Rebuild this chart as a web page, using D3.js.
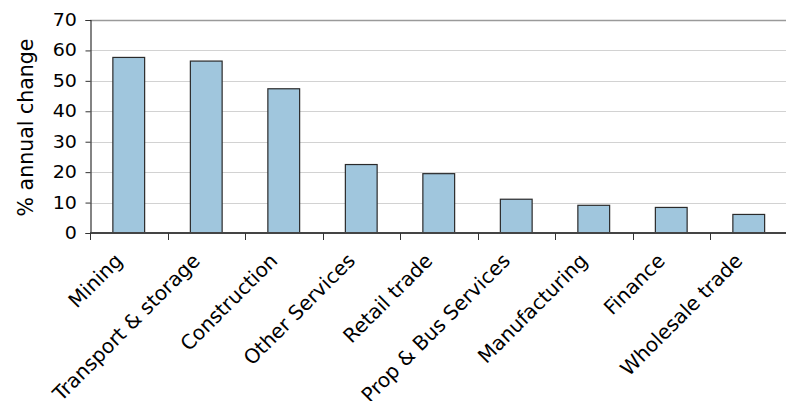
<!DOCTYPE html>
<html><head><meta charset="utf-8">
<script src="https://cdn.jsdelivr.net/npm/d3@7"></script>
<style>
html,body{margin:0;padding:0;background:#fff;}
text{font-family:"DejaVu Sans",Verdana,sans-serif;fill:#000;}
</style></head>
<body>
<svg id="chart" width="786" height="401"></svg>
<script>
const categories = ["Mining","Transport & storage","Construction","Other Services","Retail trade","Prop & Bus Services","Manufacturing","Finance","Wholesale trade"];
const values = [57.7, 56.5, 47.4, 22.5, 19.5, 11.1, 9.1, 8.4, 6.1];
const yTicks = [0,10,20,30,40,50,60,70];
const yLabel = "% annual change";

const svg = d3.select("#chart");
const mLeft = 90, mRight = 787.5, mTop = 20, mBottom = 233;

const x = d3.scaleBand().domain(categories).range([mLeft, mRight]).paddingInner(0.59).paddingOuter(0.295);
const y = d3.scaleLinear().domain([0,70]).range([mBottom, mTop]);

// gridlines
svg.append("g").selectAll("line").data(yTicks.filter(d => d > 0)).join("line")
  .attr("x1", mLeft).attr("x2", 786)
  .attr("y1", d => Math.round(y(d)) + 0.5).attr("y2", d => Math.round(y(d)) + 0.5)
  .attr("stroke", d => d === 70 ? "#9a9a9a" : "#d2d2d2")
  .attr("stroke-width", d => d === 70 ? 1.5 : 1);

// bars
svg.append("g").selectAll("rect").data(categories).join("rect")
  .attr("x", d => x(d)).attr("width", x.bandwidth())
  .attr("y", (d,i) => y(values[i])).attr("height", (d,i) => y(0) - y(values[i]))
  .attr("fill", "#a0c6dd").attr("stroke", "#2a2a2a").attr("stroke-width", 1.2);

// y axis
const ya = svg.append("g").attr("transform", `translate(${mLeft+0.5},0)`)
  .call(d3.axisLeft(y).tickValues(yTicks).tickSize(5).tickPadding(8));
ya.select(".domain").attr("stroke", "#333").attr("stroke-width", 1.2);
ya.selectAll(".tick line").attr("stroke", "#333");
ya.selectAll(".tick text").attr("font-size", "17px")
  .attr("font-family", "DejaVu Sans, Verdana, sans-serif")
  .attr("fill", "#111")
  .attr("transform", "scale(1.12,1)")
  .attr("x", -13/1.12 - 0.5);

// x axis line
svg.append("line").attr("x1", mLeft).attr("x2", 786)
  .attr("y1", mBottom).attr("y2", mBottom)
  .attr("stroke", "#444").attr("stroke-width", 2.2);

// x ticks at band boundaries
svg.append("g").selectAll("line").data(categories).join("line")
  .attr("x1", (d,i) => Math.round(mLeft + i * x.step()) + 0.5)
  .attr("x2", (d,i) => Math.round(mLeft + i * x.step()) + 0.5)
  .attr("y1", mBottom).attr("y2", mBottom + 7)
  .attr("stroke", "#333").attr("stroke-width", 1);

// x labels
svg.append("g").selectAll("text").data(categories).join("text")
  .attr("transform", d => `translate(${x(d) + x.bandwidth()/2 - 5},262) rotate(-45)`)
  .attr("text-anchor", "end")
  .attr("font-size", "20px")
  .attr("fill", "#111")
  .text(d => d);

// y label
svg.append("text")
  .attr("transform", "translate(33,127.5) rotate(-90)")
  .attr("text-anchor", "middle")
  .attr("font-size", "20.5px")
  .attr("fill", "#111")
  .text(yLabel);
</script>
</body></html>
